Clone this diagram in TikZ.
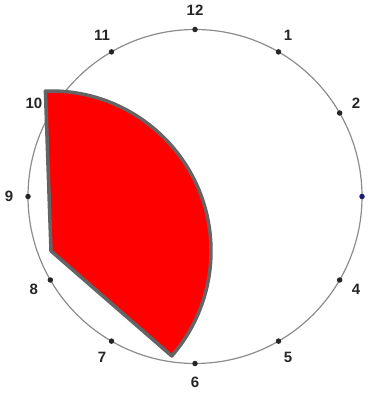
\documentclass[tikz,border=0pt]{standalone}
\usepackage{fontspec}
\setmainfont{Liberation Sans}
\usetikzlibrary{calc}
\definecolor{Rim}{HTML}{8C8C8C}
\definecolor{Edge}{HTML}{646464}
\definecolor{Navy}{HTML}{1C1C72}
\definecolor{Ink}{HTML}{262626}

\begin{document}
\begin{tikzpicture}[x=1pt,y=-1pt,
    rim/.style={draw=Rim,line width=1.2pt},
    hour/.style={circle,fill=Ink,inner sep=0pt,minimum size=5.5pt},
    hour 3/.style={fill=Navy},
    num/.style={font=\fontsize{15}{15}\selectfont\bfseries,text=Ink},
    slice/.style={fill=red,draw=Edge,line width=3.5pt,line join=round}]
  \useasboundingbox (0,0) rectangle (376,395);
  \coordinate (o) at (195,196.5);
  \draw[rim] (o) circle[radius=167];
  \foreach \h in {1,...,12}{
    \node[hour,hour \h/.try] (dot\h) at ($(o)+({30*\h-90}:167)$) {};
    \node[num] (lbl\h) at ($(o)+({30*\h-90}:186)$) {\h};
  }
  % the red slice
  \coordinate (pivot) at (51,251);
  \draw[slice] (pivot) -- ++(268:160) coordinate (tip)
    arc[start angle=268,end angle=401,radius=160] coordinate (foot) -- cycle;
\end{tikzpicture}
\end{document}
